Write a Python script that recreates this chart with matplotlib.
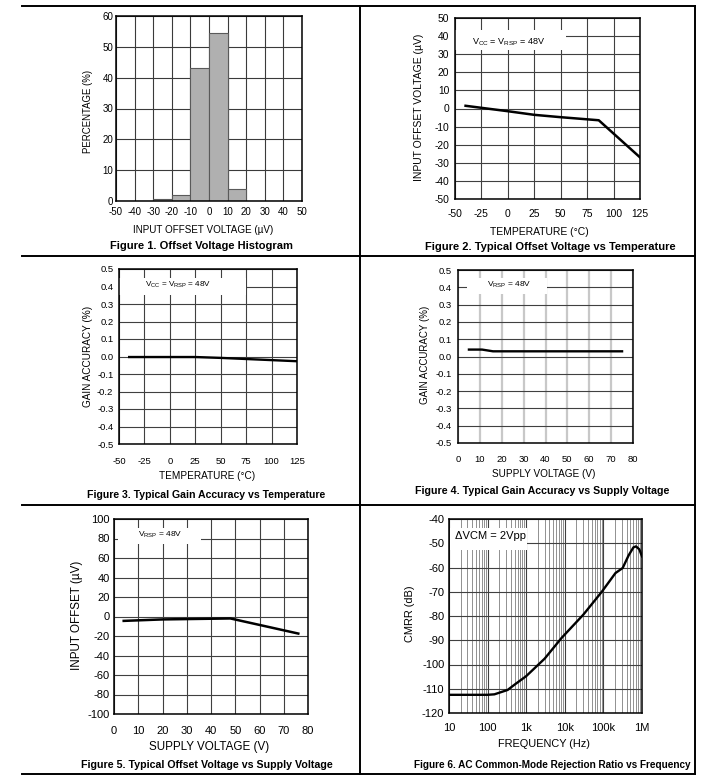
import numpy as np
import matplotlib
matplotlib.use("Agg")
import matplotlib.pyplot as plt
from matplotlib.lines import Line2D
from matplotlib.patches import Rectangle

plt.rcParams['font.family'] = ['Liberation Sans', 'DejaVu Sans']
plt.rcParams['mathtext.fontset'] = 'custom'
plt.rcParams['mathtext.rm'] = 'Liberation Sans'
plt.rcParams['axes.unicode_minus'] = False

W, H = 728, 784

# Figure 1: histogram
hist_left = [-50, -40, -30, -20, -10, 0, 10, 20, 30, 40]
hist_pct = [0, 0, 0.5, 2, 43, 54.5, 4, 0, 0, 0]

# Figure 2: offset vs temperature
temp2 = [-40, 0, 25, 50, 86, 125]
offset2 = [1.5, -1.5, -3.5, -4.8, -6.5, -27]

# Figure 3: gain accuracy vs temperature
temp3 = [-40, 25, 50, 125]
gain3 = [-0.003, -0.003, -0.008, -0.027]

# Figure 4: gain accuracy vs supply
supply4 = [5, 11, 16, 75]
gain4 = [0.04, 0.04, 0.03, 0.03]

# Figure 5: offset vs supply
supply5 = [4, 20, 48, 76]
offset5 = [-4.5, -3, -2, -17.5]

# Figure 6: CMRR vs frequency
freq6 = [10, 100, 150, 330, 500, 1000, 3000, 8300, 30000, 91000,
         205000, 316000, 450000, 600000, 700000, 850000, 1000000]
cmrr6 = [-112.5, -112.5, -112.3, -110.5, -108.3, -104.8, -97.6, -89,
         -79.5, -70, -62.3, -60.2, -55, -51.7, -51.3, -52.5, -55.4]
freq_ticks = [10, 100, 1000, 10000, 100000, 1000000]
freq_labels = ['10', '100', '1k', '10k', '100k', '1M']

gain_ticks = [-0.5, -0.4, -0.3, -0.2, -0.1, 0.0, 0.1, 0.2, 0.3, 0.4, 0.5]
gain_labels = ['-0.5', '-0.4', '-0.3', '-0.2', '-0.1', '0.0', '0.1', '0.2', '0.3', '0.4', '0.5']

vcc_note = 'V$_\\mathregular{CC}$ = V$_\\mathregular{RSP}$ = 48V'
vrsp_note = 'V$_\\mathregular{RSP}$ = 48V'

fig = plt.figure(figsize=(W / 100, H / 100), dpi=100)


def add_ax(x0, y0, x1, y1):
    # pixel box -> figure fraction
    return fig.add_axes([x0 / W, 1 - y1 / H, (x1 - x0) / W, (y1 - y0) / H])


def ftext(x, y, s, **kw):
    fig.text(x / W, 1 - y / H, s, ha='center', va='center', **kw)


def style(ax, fs, xpad, ypad, gc='#404040'):
    ax.tick_params(length=0, labelsize=fs, pad=xpad, axis='x')
    ax.tick_params(length=0, labelsize=fs, pad=ypad, axis='y')
    ax.grid(True, color=gc, lw=0.8)
    ax.set_axisbelow(True)
    for sp in ax.spines.values():
        sp.set_linewidth(1.1)


def note(ax, box, txt_xy, s, fs):
    ax.add_patch(Rectangle((box[0], box[1]), box[2] - box[0], box[3] - box[1],
                           transform=ax.transAxes, fc='white', ec='none', zorder=1.5))
    ax.text(txt_xy[0], txt_xy[1], s, transform=ax.transAxes, fontsize=fs,
            va='center', ha='left', zorder=3)


# ---- Figure 1
ax1 = add_ax(116, 16, 302, 201)
ax1.bar(hist_left, hist_pct, width=10, align='edge', color='#b0b0b0',
        edgecolor='#5a5a5a', lw=0.8, zorder=2)
ax1.set_xlim(-50, 50)
ax1.set_ylim(0, 60)
ax1.set_xticks(np.arange(-50, 51, 10))
ax1.set_yticks(np.arange(0, 61, 10))
style(ax1, 7, 4.5, 2, gc='#3a3a3a')
ftext(88, 111, 'PERCENTAGE (%)', fontsize=6.9, rotation=90)
ftext(203, 230, 'INPUT OFFSET VOLTAGE (µV)', fontsize=7.1)
ftext(202, 246, 'Figure 1. Offset Voltage Histogram', fontsize=8, fontweight='bold')

# ---- Figure 2
ax2 = add_ax(455, 18, 640, 199)
ax2.plot(temp2, offset2, color='black', lw=1.8, zorder=3)
ax2.set_xlim(-50, 125)
ax2.set_ylim(-50, 50)
ax2.set_xticks(np.arange(-50, 126, 25))
ax2.set_yticks(np.arange(-50, 51, 10))
style(ax2, 7.4, 7, 4)
note(ax2, (0, 0.823, 0.598, 0.934), (0.094, 0.866), vcc_note, 6.5)
ftext(419, 107, 'INPUT OFFSET VOLTAGE (µV)', fontsize=7.5, rotation=90)
ftext(539, 232, 'TEMPERATURE (°C)', fontsize=7.5)
ftext(550, 247, 'Figure 2. Typical Offset Voltage vs Temperature', fontsize=8, fontweight='bold')

# ---- Figure 3
ax3 = add_ax(119, 269, 297, 444)
ax3.plot(temp3, gain3, color='black', lw=1.7, zorder=3)
ax3.set_xlim(-50, 125)
ax3.set_ylim(-0.5, 0.5)
ax3.set_xticks(np.arange(-50, 126, 25))
ax3.set_yticks(gain_ticks)
ax3.set_yticklabels(gain_labels)
style(ax3, 6.8, 9, 4)
note(ax3, (0, 0.853, 0.716, 0.948), (0.146, 0.91), vcc_note, 5.9)
ftext(88, 356, 'GAIN ACCURACY (%)', fontsize=7.2, rotation=90)
ftext(207, 476, 'TEMPERATURE (°C)', fontsize=7.2)
ftext(206, 495, 'Figure 3. Typical Gain Accuracy vs Temperature', fontsize=7.6, fontweight='bold')

# ---- Figure 4
ax4 = add_ax(458, 270, 633, 443)
ax4.plot(supply4, gain4, color='black', lw=1.7, zorder=3)
ax4.set_xlim(0, 80)
ax4.set_ylim(-0.5, 0.5)
ax4.set_xticks(np.arange(0, 81, 10))
ax4.set_yticks(gain_ticks)
ax4.set_yticklabels(gain_labels)
style(ax4, 6.8, 9, 4.5)
ax4.grid(False)
ax4.grid(True, axis='x', color='#c8c8c8', lw=1.6)
ax4.grid(True, axis='y', color='#404040', lw=0.8)
note(ax4, (0.05, 0.859, 0.507, 0.952), (0.164, 0.917), vrsp_note, 6)
ftext(425, 355, 'GAIN ACCURACY (%)', fontsize=7, rotation=90)
ftext(544, 474, 'SUPPLY VOLTAGE (V)', fontsize=7.2)
ftext(542, 491, 'Figure 4. Typical Gain Accuracy vs Supply Voltage', fontsize=7.7, fontweight='bold')

# ---- Figure 5
ax5 = add_ax(114, 519, 308, 714)
ax5.plot(supply5, offset5, color='black', lw=1.8, zorder=3)
ax5.set_xlim(0, 80)
ax5.set_ylim(-100, 100)
ax5.set_xticks(np.arange(0, 81, 10))
ax5.set_yticks(np.arange(-100, 101, 20))
style(ax5, 8, 9, 3)
note(ax5, (0.02, 0.87, 0.45, 0.952), (0.124, 0.918), vrsp_note, 6)
ftext(77, 615, 'INPUT OFFSET (µV)', fontsize=8.4, rotation=90)
ftext(209, 747, 'SUPPLY VOLTAGE (V)', fontsize=8.4)
ftext(207, 765, 'Figure 5. Typical Offset Voltage vs Supply Voltage', fontsize=7.7, fontweight='bold')

# ---- Figure 6
ax6 = add_ax(449, 519, 642, 713)
ax6.plot(freq6, cmrr6, color='black', lw=1.7, zorder=3)
ax6.set_xscale('log')
ax6.set_xlim(10, 1e6)
ax6.set_ylim(-120, -40)
ax6.set_xticks(freq_ticks)
ax6.set_xticklabels(freq_labels)
ax6.set_yticks(np.arange(-120, -39, 10))
style(ax6, 8, 7.5, 3.4)
ax6.xaxis.set_minor_locator(matplotlib.ticker.LogLocator(base=10, subs=np.arange(2, 10)))
ax6.xaxis.set_minor_formatter(matplotlib.ticker.NullFormatter())
ax6.tick_params(which='minor', length=0)
ax6.grid(True, which='minor', axis='x', color='#909090', lw=0.7)
note(ax6, (0.005, 0.842, 0.403, 0.954), (0.031, 0.914), 'ΔVCM = 2Vpp', 8)
ftext(410, 614, 'CMRR (dB)', fontsize=7.9, rotation=90)
ftext(544, 744, 'FREQUENCY (Hz)', fontsize=7.9)
ftext(552, 765, 'Figure 6. AC Common-Mode Rejection Ratio vs Frequency', fontsize=7.2, fontweight='bold')

# table frame
for y in [6, 256, 505, 774]:
    fig.add_artist(Line2D([22 / W, 695 / W], [1 - y / H, 1 - y / H], color='black', lw=1.4))
for x in [360, 695]:
    fig.add_artist(Line2D([x / W, x / W], [1 - 6 / H, 1 - 774 / H], color='black', lw=1.4))

fig.savefig('out.png', dpi=100)
